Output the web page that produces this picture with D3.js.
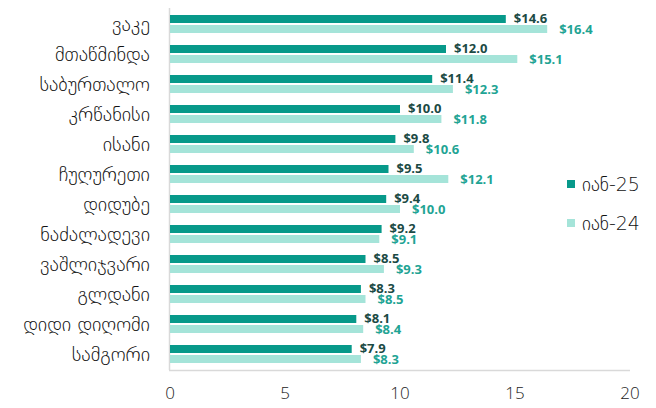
<!DOCTYPE html>
<html>
<head>
<meta charset="utf-8">
<script src="https://cdn.jsdelivr.net/npm/d3@7"></script>
<style>
  body { margin: 0; background: #fff; }
  svg { display: block; }
</style>
</head>
<body>
<div id="chart"></div>
<script>
// districts, top to bottom
const districts = ["ვაკე", "მთაწმინდა", "საბურთალო", "კრწანისი", "ისანი", "ჩუღურეთი",
  "დიდუბე", "ნაძალადევი", "ვაშლიჯვარი", "გლდანი", "დიდი დიღომი", "სამგორი"];
const seriesNames = ["იან-25", "იან-24"];
const jan25 = [14.6, 12.0, 11.4, 10.0, 9.8, 9.5, 9.4, 9.2, 8.5, 8.3, 8.1, 7.9];
const jan24 = [16.4, 15.1, 12.3, 11.8, 10.6, 12.1, 10.0, 9.1, 9.3, 8.5, 8.4, 8.3];
const xTicks = [0, 5, 10, 15, 20];

const W = 656, H = 408;
const colors = ["#07998a", "#a5e4d9"];
const labelColors = ["#1b4a44", "#1fa494"];
const geoFont = "'DejaVu Sans', sans-serif";

const svg = d3.select("#chart").append("svg")
  .attr("width", W).attr("height", H);

const x = d3.scaleLinear().domain([0, 20]).range([170, 630]);
const y = d3.scaleBand().domain(districts).range([9, 369]);

// axis lines
svg.append("line")
  .attr("x1", 169.5).attr("x2", 169.5).attr("y1", 8).attr("y2", 370)
  .attr("stroke", "#d9d9d9").attr("stroke-width", 1.5);
svg.append("line")
  .attr("x1", 169).attr("x2", 630).attr("y1", 370.5).attr("y2", 370.5)
  .attr("stroke", "#d9d9d9").attr("stroke-width", 1.5);

// x tick labels
svg.append("g")
  .selectAll("text")
  .data(xTicks)
  .join("text")
  .attr("x", d => x(d))
  .attr("y", 399)
  .attr("text-anchor", "middle")
  .attr("font-family", "'Open Sans', sans-serif")
  .attr("font-weight", 300)
  .attr("font-size", 17)
  .attr("fill", "#222")
  .text(d => d);

// category labels
svg.append("g")
  .selectAll("text")
  .data(districts)
  .join("text")
  .attr("x", 150)
  .attr("y", d => y(d) + y.bandwidth() / 2)
  .attr("dy", "0.35em")
  .attr("text-anchor", "end")
  .attr("font-family", geoFont)
  .attr("font-weight", 200)
  .attr("font-size", 20)
  .attr("fill", "#111")
  .text(d => d);

const barH = 8, barGap = 2;
const series = [jan25, jan24];

series.forEach((vals, si) => {
  const g = svg.append("g");
  const top = (d, i) => y(districts[i]) + y.bandwidth() / 2 - barH - barGap / 2 + si * (barH + barGap);

  g.selectAll("rect")
    .data(vals)
    .join("rect")
    .attr("x", x(0))
    .attr("y", top)
    .attr("width", d => x(d) - x(0))
    .attr("height", barH)
    .attr("fill", colors[si]);

  g.selectAll("text")
    .data(vals)
    .join("text")
    .attr("x", d => x(d) + (si === 0 ? 8 : 12))
    .attr("y", (d, i) => top(d, i) + barH + (si === 0 ? 0 : 1))
    .attr("font-family", "'Open Sans', sans-serif")
    .attr("font-weight", "bold")
    .attr("font-size", 13)
    .attr("fill", labelColors[si])
    .text(d => "$" + d.toFixed(1));
});

// legend
const legend = svg.append("g");
seriesNames.forEach((name, i) => {
  const ly = 184 + i * 39;
  legend.append("rect")
    .attr("x", 567).attr("y", ly - 4).attr("width", 8).attr("height", 8)
    .attr("fill", colors[i]);
  legend.append("text")
    .attr("x", 582).attr("y", ly)
    .attr("dy", "0.35em")
    .attr("font-family", geoFont)
    .attr("font-weight", 200)
    .attr("font-size", 19)
    .attr("fill", "#111")
    .text(name);
});
</script>
</body>
</html>
